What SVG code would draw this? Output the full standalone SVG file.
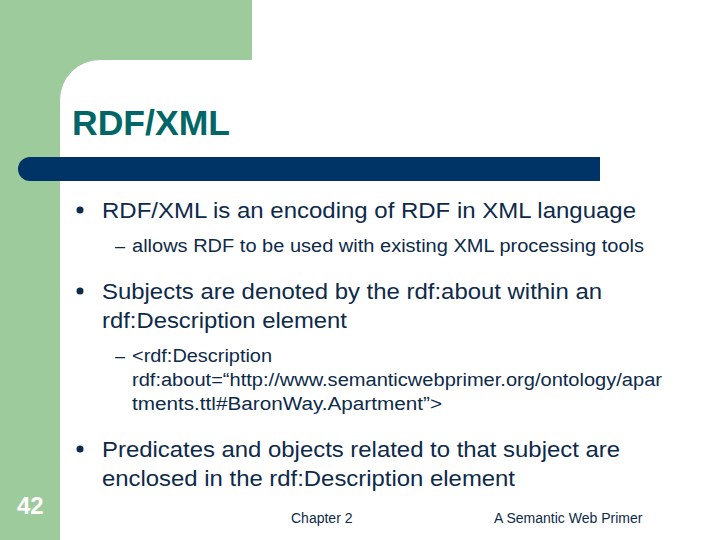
<svg xmlns="http://www.w3.org/2000/svg" width="720" height="540" viewBox="0 0 720 540">
<style>
text{font-family:"Liberation Sans",Arial,sans-serif;fill:#0d2a4a}
.b1{font-size:22px}.b2{font-size:18px}.ft{font-size:14px}
</style>
<rect width="720" height="540" fill="#fff"/>
<path d="M0 0H252V60H100A40 40 0 0 0 60 100V540H0Z" fill="#9dcb9b"/>
<text x="72" y="135" textLength="158" lengthAdjust="spacingAndGlyphs" style="font-size:35px;font-weight:bold;fill:#006666">RDF/XML</text>
<path d="M30 157H600V181H30A12 12 0 0 1 30 157Z" fill="#003366"/>
<g fill="#0d2a4a"><circle cx="80" cy="210" r="3.5"/><circle cx="80" cy="291" r="3.5"/><circle cx="80" cy="449" r="3.5"/></g>
<text class="b1" x="102" y="218" textLength="534" lengthAdjust="spacingAndGlyphs">RDF/XML is an encoding of RDF in XML language</text>
<text class="b2" x="115" y="252">–</text>
<text class="b2" x="132" y="252" textLength="512" lengthAdjust="spacingAndGlyphs">allows RDF to be used with existing XML processing tools</text>
<text class="b1" x="102" y="299" textLength="500" lengthAdjust="spacingAndGlyphs">Subjects are denoted by the rdf:about within an</text>
<text class="b1" x="102" y="328" textLength="245" lengthAdjust="spacingAndGlyphs">rdf:Description element</text>
<text class="b2" x="115" y="362">–</text>
<text class="b2" x="132" y="362" textLength="140" lengthAdjust="spacingAndGlyphs">&lt;rdf:Description</text>
<text class="b2" x="132" y="386" textLength="530" lengthAdjust="spacingAndGlyphs">rdf:about=“http://www.semanticwebprimer.org/ontology/apar</text>
<text class="b2" x="132" y="410" textLength="310" lengthAdjust="spacingAndGlyphs">tments.ttl#BaronWay.Apartment”&gt;</text>
<text class="b1" x="102" y="457" textLength="518" lengthAdjust="spacingAndGlyphs">Predicates and objects related to that subject are</text>
<text class="b1" x="102" y="486" textLength="413" lengthAdjust="spacingAndGlyphs">enclosed in the rdf:Description element</text>
<text x="17" y="514" style="font-size:24px;font-weight:bold;fill:#fff">42</text>
<text class="ft" x="291" y="523">Chapter 2</text>
<text class="ft" x="494" y="523">A Semantic Web Primer</text>
</svg>
